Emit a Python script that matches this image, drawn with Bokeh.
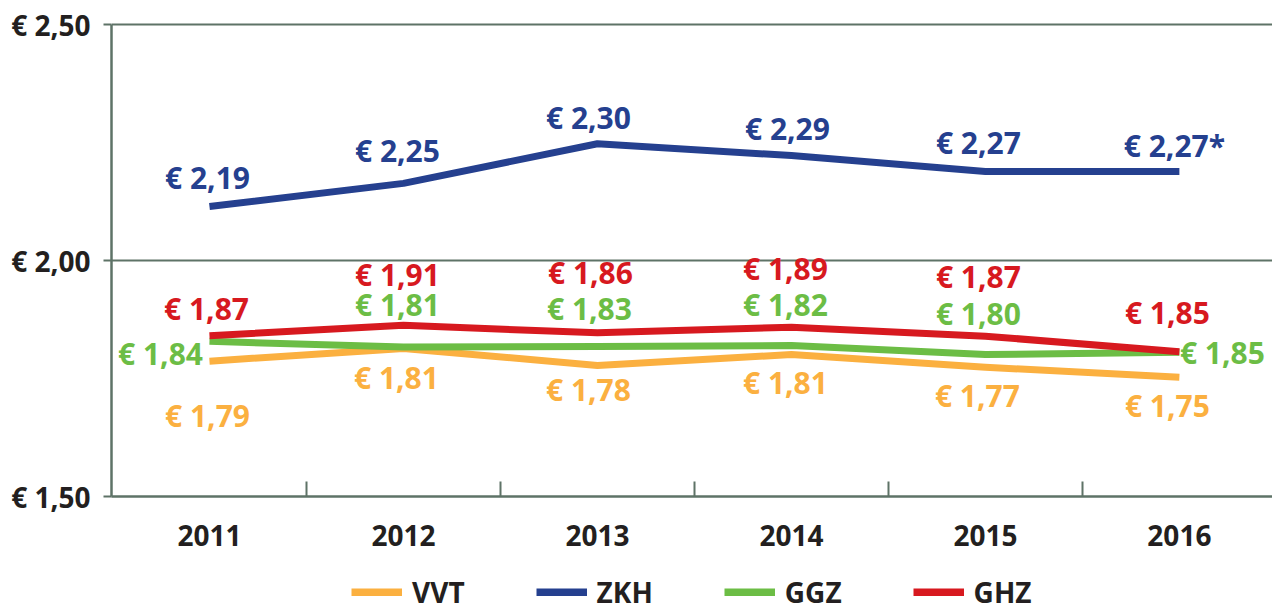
from bokeh.plotting import figure
from bokeh.layouts import column
from bokeh.models import (Range1d, FixedTicker, CustomJSTickFormatter, ColumnDataSource,
                          Legend, LegendItem)
from bokeh.embed import file_html
from bokeh.resources import INLINE
from bokeh.core.properties import value

# ---------------- data ----------------
years = [2011, 2012, 2013, 2014, 2015, 2016]

vvt = [1.787, 1.814, 1.778, 1.801, 1.774, 1.753]
zkh = [2.115, 2.164, 2.248, 2.223, 2.189, 2.189]
ggz = [1.829, 1.817, 1.818, 1.820, 1.801, 1.806]
ghz = [1.841, 1.863, 1.847, 1.859, 1.840, 1.807]

vvt_labels = ["€ 1,79", "€ 1,81", "€ 1,78", "€ 1,81", "€ 1,77", "€ 1,75"]
zkh_labels = ["€ 2,19", "€ 2,25", "€ 2,30", "€ 2,29", "€ 2,27", "€ 2,27*"]
ggz_labels = ["€ 1,84", "€ 1,81", "€ 1,83", "€ 1,82", "€ 1,80", "€ 1,85"]
ghz_labels = ["€ 1,87", "€ 1,91", "€ 1,86", "€ 1,89", "€ 1,87", "€ 1,85"]

series_names = ["VVT", "ZKH", "GGZ", "GHZ"]

y_ticks = [1.5, 2.0, 2.5]
y_tick_labels = ["€ 1,50", "€ 2,00", "€ 2,50"]

# ---------------- layout / style ----------------
colors = {"VVT": "#fbb040", "ZKH": "#25408f", "GGZ": "#6cbd45", "GHZ": "#d7191f"}
axis_color = "#5e7367"
text_color = "#231f20"
FONT = "Open Sans"
FS = "28px"
FS_VAL = "30px"

# label offsets in screen pixels (dx right, dy down) relative to each data point
label_dx = {
    "VVT": [-2, -7, -9, -6, -8, -12],
    "ZKH": [-2, -6, -9, -4, -7, -5],
    "GGZ": [-49, -6, -8, -6, -7, 43],
    "GHZ": [-3, -6, -7, -6, -7, -12],
}
label_dy = {
    "VVT": [54, 29, 24, 28, 28, 28],
    "ZKH": [-29, -33, -26, -27, -29, -26],
    "GGZ": [12, -43, -38, -41, -41, 0],
    "GHZ": [-27, -51, -60, -59, -60, -39],
}

values = {"VVT": vvt, "ZKH": zkh, "GGZ": ggz, "GHZ": ghz}
labels = {"VVT": vvt_labels, "ZKH": zkh_labels, "GGZ": ggz_labels, "GHZ": ghz_labels}

p = figure(width=1272, height=566,
           x_range=Range1d(2010.495, 2016.48), y_range=Range1d(1.5, 2.52),
           output_backend="svg", toolbar_location=None,
           min_border_top=15, min_border_left=111, min_border_right=0, min_border_bottom=70)
p.outline_line_color = None
p.background_fill_color = "white"
p.border_fill_color = "white"

# axes
p.xaxis.ticker = FixedTicker(ticks=years, minor_ticks=[y + 0.5 for y in years[:-1]])
p.xaxis.major_tick_line_color = None
p.xaxis.minor_tick_in = 15
p.xaxis.minor_tick_out = 0
p.xaxis.minor_tick_line_color = axis_color
p.xaxis.minor_tick_line_width = 2
p.xaxis.axis_line_color = axis_color
p.xaxis.axis_line_width = 2.5
p.xaxis.major_label_text_font = FONT
p.xaxis.major_label_text_font_style = "bold"
p.xaxis.major_label_text_font_size = FS
p.xaxis.major_label_text_color = text_color
p.xaxis.major_label_standoff = 22

p.yaxis.ticker = FixedTicker(ticks=y_ticks, minor_ticks=[])
p.yaxis.formatter = CustomJSTickFormatter(
    args=dict(vals=y_ticks, labs=y_tick_labels),
    code="for (let i = 0; i < vals.length; i++) { if (Math.abs(vals[i] - tick) < 1e-6) return labs[i]; } return '';")
p.yaxis.bounds = (1.5, 2.5)
p.yaxis.major_tick_out = 8
p.yaxis.major_tick_in = 0
p.yaxis.major_tick_line_color = axis_color
p.yaxis.major_tick_line_width = 2
p.yaxis.minor_tick_line_color = None
p.yaxis.axis_line_color = axis_color
p.yaxis.axis_line_width = 2.5
p.yaxis.major_label_text_font = FONT
p.yaxis.major_label_text_font_style = "bold"
p.yaxis.major_label_text_font_size = FS
p.yaxis.major_label_text_color = text_color
p.yaxis.major_label_standoff = 13

p.xgrid.grid_line_color = None
p.ygrid.grid_line_color = axis_color
p.ygrid.grid_line_width = 2

# lines
for name in ["VVT", "GGZ", "GHZ", "ZKH"]:
    src = ColumnDataSource(dict(x=years, y=values[name]))
    p.line("x", "y", source=src, line_color=colors[name], line_width=7,
           line_cap="butt", line_join="round")

# value labels
for name in series_names:
    src = ColumnDataSource(dict(x=years, y=values[name], t=labels[name],
                                dx=label_dx[name], dy=label_dy[name]))
    p.text("x", "y", text="t", source=src, x_offset="dx", y_offset="dy",
           text_align="center", text_baseline="middle",
           text_font=value(FONT), text_font_style="bold", text_font_size=FS_VAL,
           text_color=colors[name])

# ---------------- legend strip ----------------
lg = figure(width=1272, height=44, x_range=Range1d(0, 1), y_range=Range1d(0, 1),
            output_backend="svg", toolbar_location=None, min_border=0)
lg.axis.visible = False
lg.grid.visible = False
lg.outline_line_color = None
lg.background_fill_color = "white"
lg.border_fill_color = "white"

leg_renderers = {}
for name in series_names:
    # legend swatches only: the series lines live in the main plot
    leg_renderers[name] = lg.line(x=[-5, -4], y=[-5, -5], line_color=colors[name],
                                  line_width=8, line_cap="butt")

legend = Legend(items=[LegendItem(label=n, renderers=[leg_renderers[n]]) for n in series_names],
                orientation="horizontal", location=(240, -1))
legend.border_line_color = None
legend.background_fill_alpha = 0
legend.label_text_font = FONT
legend.label_text_font_style = "bold"
legend.label_text_font_size = FS
legend.label_text_color = text_color
legend.glyph_width = 51
legend.glyph_height = 8
legend.label_standoff = 10
legend.spacing = 71
legend.padding = 0
legend.margin = 0
lg.add_layout(legend, "center")

layout = column(p, lg, spacing=0)
open("out.html", "w").write(file_html(layout, INLINE))
